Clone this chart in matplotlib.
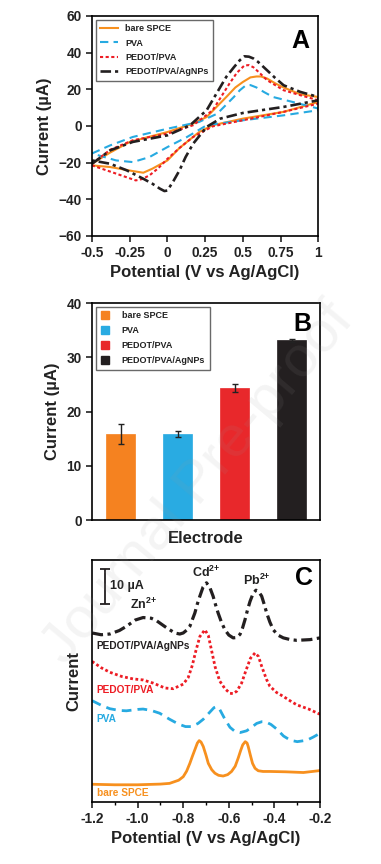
import matplotlib
matplotlib.use('Agg')
import matplotlib.pyplot as plt
from matplotlib.lines import Line2D

plt.rcParams['font.family'] = ['Liberation Sans', 'DejaVu Sans']
plt.rcParams['font.weight'] = 'bold'
plt.rcParams['mathtext.fontset'] = 'custom'
plt.rcParams['mathtext.rm'] = 'Liberation Sans:bold'
plt.rcParams['mathtext.it'] = 'Liberation Sans:bold'
plt.rcParams['mathtext.bf'] = 'Liberation Sans:bold'

# colours
c_orange = '#F7901E'
c_blue = '#27AAE1'
c_red = '#ED1C24'
c_black = '#231F20'

# ---------------- Panel A: cyclic voltammograms (forward then reverse) ----------------
bare_E = [-0.5, -0.38, -0.25, 0.0, 0.17, 0.26, 0.39, 0.45, 0.5, 0.55, 0.59, 0.62, 0.66, 0.72, 0.77, 0.88, 1.0,
          1.0, 0.77, 0.5, 0.3, 0.21, 0.08, 0.0, -0.1, -0.16, -0.23, -0.38, -0.5]
bare_I = [-20.6, -14.5, -8.7, -3.3, 1.3, 4.9, 15.8, 21.0, 24.0, 26.5, 27.0, 27.0, 25.9, 23.0, 21.0, 17.3, 15.8,
          13.1, 7.7, 4.0, 0.4, -3.3, -12.0, -18.8, -23.3, -25.5, -24.6, -22.4, -21.5]

pva_E = [-0.5, -0.38, -0.23, 0.0, 0.21, 0.33, 0.44, 0.48, 0.52, 0.55, 0.59, 0.64, 0.7, 0.83, 1.0,
         1.0, 0.77, 0.5, 0.26, 0.13, 0.0, -0.12, -0.23, -0.34, -0.5]
pva_I = [-15.0, -10.6, -6.0, -1.5, 2.2, 6.7, 15.8, 19.5, 22.2, 22.3, 21.0, 18.5, 15.8, 13.1, 9.5,
         8.6, 5.8, 3.1, 0.4, -6.0, -11.5, -17.0, -19.7, -18.8, -15.0]

pedot_E = [-0.5, -0.38, -0.23, 0.0, 0.17, 0.3, 0.41, 0.46, 0.51, 0.54, 0.57, 0.61, 0.66, 0.77, 0.88, 1.0,
           1.0, 0.77, 0.5, 0.3, 0.17, 0.08, 0.0, -0.06, -0.12, -0.17, -0.21, -0.34, -0.5]
pedot_I = [-20.6, -13.0, -7.8, -4.2, 0.4, 8.6, 23.0, 29.0, 33.0, 33.2, 32.0, 29.0, 25.0, 19.5, 16.8, 14.0,
           12.2, 7.7, 3.1, -0.2, -6.0, -12.0, -17.9, -23.0, -27.0, -29.0, -29.7, -26.0, -21.5]

agnp_E = [-0.5, -0.38, -0.23, 0.0, 0.15, 0.26, 0.39, 0.44, 0.48, 0.51, 0.54, 0.57, 0.6, 0.66, 0.71, 0.77, 0.88, 1.0,
          1.0, 0.77, 0.5, 0.35, 0.26, 0.17, 0.12, 0.08, 0.04, 0.0, -0.02, -0.05, -0.1, -0.16, -0.27, -0.38, -0.5]
agnp_I = [-20.6, -13.3, -8.7, -5.1, 0.4, 8.6, 26.8, 32.0, 35.9, 38.0, 37.8, 36.8, 35.0, 30.4, 26.5, 22.2, 18.6, 15.8,
          14.0, 10.4, 7.1, 4.0, -0.5, -9.7, -17.0, -24.2, -30.0, -35.2, -35.5, -34.2, -31.5, -28.8, -24.2, -20.6, -18.8]

# ---------------- Panel B: peak currents ----------------
electrodes = ['bare SPCE', 'PVA', 'PEDOT/PVA', 'PEDOT/PVA/AgNPs']
peak_current = [15.9, 15.9, 24.4, 33.2]
peak_err = [1.9, 0.5, 0.8, 0.3]
bar_colors = ['#F58220', '#29ABE2', '#E8282B', '#231F20']

# ---------------- Panel C: stripping voltammograms (offset, uA) ----------------
sw_bare_E = [-1.2, -1.1, -1.0, -0.9, -0.86, -0.82, -0.80, -0.785, -0.771, -0.76, -0.749, -0.738, -0.730,
             -0.722, -0.712, -0.70, -0.690, -0.675, -0.661, -0.645, -0.625, -0.605, -0.588, -0.572,
             -0.559, -0.548, -0.539, -0.528, -0.52, -0.515, -0.505, -0.496, -0.485, -0.471, -0.45,
             -0.42, -0.35, -0.273, -0.207, -0.2]
sw_bare_I = [5.05, 4.9, 4.9, 5.1, 5.3, 6.2, 7.2, 8.8, 11.0, 13.0, 14.9, 16.8, 17.5,
             17.1, 15.8, 13.3, 11.0, 9.2, 8.2, 7.6, 7.4, 7.8, 8.7, 10.2,
             12.5, 14.7, 16.3, 17.2, 16.8, 15.8, 13.2, 11.0, 9.6, 8.9, 8.7,
             8.7, 8.6, 8.4, 8.9, 9.0]

sw_pva_E = [-1.2, -1.16, -1.122, -1.08, -1.049, -1.0, -0.976, -0.94, -0.903, -0.86, -0.82, -0.79,
            -0.764, -0.735, -0.712, -0.685, -0.665, -0.654, -0.64, -0.617, -0.595, -0.573, -0.55,
            -0.522, -0.5, -0.478, -0.455, -0.44, -0.415, -0.39, -0.36, -0.33, -0.3, -0.258, -0.23, -0.2]
sw_pva_I = [28.9, 27.6, 26.6, 26.1, 26.0, 26.4, 26.5, 26.1, 25.3, 23.6, 22.2, 21.5,
            21.5, 22.4, 23.6, 25.5, 26.9, 27.2, 26.4, 23.6, 21.3, 20.1, 19.8,
            20.3, 21.3, 22.4, 22.9, 22.9, 22.1, 20.8, 18.8, 17.6, 17.2, 17.6, 18.5, 19.6]

sw_pedot_E = [-1.2, -1.16, -1.122, -1.07, -1.02, -0.976, -0.932, -0.88, -0.844, -0.80, -0.778, -0.76,
              -0.745, -0.727, -0.705, -0.69, -0.675, -0.66, -0.64, -0.617, -0.595, -0.581, -0.565,
              -0.544, -0.525, -0.505, -0.485, -0.47, -0.456, -0.435, -0.42, -0.39, -0.361, -0.33,
              -0.302, -0.25, -0.2]
sw_pedot_I = [40.1, 38.3, 37.0, 35.8, 35.1, 34.8, 33.9, 32.5, 32.3, 33.6, 35.5, 39.0,
              43.0, 47.2, 49.1, 47.5, 43.0, 38.5, 34.5, 32.3, 31.0, 30.9, 31.6,
              33.9, 37.5, 41.0, 42.5, 41.5, 38.7, 35.0, 33.0, 31.2, 30.1, 28.8,
              27.7, 26.5, 25.0]

sw_agnp_E = [-1.2, -1.16, -1.122, -1.08, -1.049, -1.01, -0.976, -0.94, -0.917, -0.88, -0.859, -0.837,
             -0.815, -0.80, -0.785, -0.771, -0.76, -0.749, -0.738, -0.727, -0.713, -0.698, -0.684,
             -0.669, -0.658, -0.647, -0.632, -0.617, -0.60, -0.581, -0.566, -0.551, -0.54, -0.529,
             -0.518, -0.507, -0.494, -0.481, -0.468, -0.456, -0.445, -0.434, -0.42, -0.405, -0.385,
             -0.361, -0.33, -0.302, -0.244, -0.2]
sw_agnp_I = [48.2, 47.7, 47.9, 48.9, 50.1, 51.9, 52.6, 52.4, 51.7, 50.0, 49.1, 48.2,
             47.9, 48.2, 49.0, 50.1, 52.0, 53.9, 56.5, 58.7, 61.3, 62.5, 61.3,
             58.7, 56.2, 53.9, 51.2, 49.1, 47.6, 46.8, 46.9, 47.8, 49.6, 52.0,
             54.8, 57.2, 59.4, 60.4, 59.9, 58.7, 56.4, 53.9, 51.3, 49.1, 47.6,
             46.8, 46.3, 46.1, 46.3, 46.8]

fig = plt.figure(figsize=(3.81, 8.64), dpi=100)

tick_fs = 9.8
label_fs = 12
leg_fs = 6.5
txt_col = '#222222'

def style_axes(ax):
    for sp in ax.spines.values():
        sp.set_linewidth(1.2)
        sp.set_color('black')
    ax.tick_params(direction='out', length=4, width=1.2, labelsize=tick_fs, colors=txt_col)
    for lab in ax.get_xticklabels() + ax.get_yticklabels():
        lab.set_fontweight('bold')

# ---- A ----
axA = fig.add_axes([0.2415, 0.7269, 0.594, 0.2546])
axA.plot(bare_E, bare_I, color=c_orange, lw=1.5, label='bare SPCE')
axA.plot(pva_E, pva_I, color=c_blue, lw=1.5, ls=(0, (4, 2.5)), label='PVA')
axA.plot(pedot_E, pedot_I, color=c_red, lw=1.5, ls=(0, (1.5, 1.2)), label='PEDOT/PVA')
axA.plot(agnp_E, agnp_I, color=c_black, lw=1.9, ls=(0, (4, 1.5, 1.2, 1.5)), label='PEDOT/PVA/AgNPs')
axA.set_xlim(-0.5, 1)
axA.set_ylim(-60, 60)
axA.set_xticks([-0.5, -0.25, 0, 0.25, 0.5, 0.75, 1])
axA.set_xticklabels(['-0.5', '-0.25', '0', '0.25', '0.5', '0.75', '1'])
axA.set_yticks([-60, -40, -20, 0, 20, 40, 60])
style_axes(axA)
axA.set_xlabel('Potential (V vs Ag/AgCl)', fontsize=label_fs, fontweight='bold', color=txt_col, labelpad=3)
axA.set_ylabel('Current (µA)', fontsize=label_fs, fontweight='bold', color=txt_col, labelpad=5)
legA = axA.legend(loc='upper left', fontsize=leg_fs, frameon=True, fancybox=False, edgecolor='#444444',
                  handlelength=2.0, handletextpad=0.8, borderaxespad=0.4, labelspacing=0.6, borderpad=0.5)
legA.get_frame().set_linewidth(1.0)
for t in legA.get_texts():
    t.set_fontweight('bold')
    t.set_color(txt_col)
axA.text(0.96, 0.94, 'A', transform=axA.transAxes, fontsize=18, fontweight='bold',
         ha='right', va='top')

# ---- B ----
axB = fig.add_axes([0.2415, 0.398, 0.5985, 0.251])
xpos = list(range(1, len(electrodes) + 1))
axB.bar(xpos, peak_current, width=0.5, color=bar_colors, edgecolor=bar_colors, linewidth=0.5,
        yerr=peak_err, error_kw=dict(ecolor='#222222', elinewidth=1.0, capsize=2, capthick=1.0))
axB.set_xlim(0.5, 4.5)
axB.set_ylim(0, 40)
axB.set_yticks([0, 10, 20, 30, 40])
axB.set_xticks([])
style_axes(axB)
axB.set_xlabel('Electrode', fontsize=label_fs, fontweight='bold', color=txt_col, labelpad=8)
axB.set_ylabel('Current (µA)', fontsize=label_fs, fontweight='bold', color=txt_col, labelpad=5)
handles = [Line2D([], [], marker='s', ls='none', color=c, markersize=5.5) for c in bar_colors]
legB = axB.legend(handles, electrodes, loc='upper left', fontsize=leg_fs, frameon=True, fancybox=False,
                  edgecolor='#444444', handlelength=1.0, borderaxespad=0.4, labelspacing=0.65,
                  borderpad=0.5, handletextpad=1.4)
legB.get_frame().set_linewidth(1.0)
for t in legB.get_texts():
    t.set_fontweight('bold')
    t.set_color(txt_col)
axB.text(0.96, 0.96, 'B', transform=axB.transAxes, fontsize=18, fontweight='bold',
         ha='right', va='top')

# ---- C ----
axC = fig.add_axes([0.2415, 0.0718, 0.5985, 0.280])
axC.plot(sw_bare_E, sw_bare_I, color=c_orange, lw=2.0)
axC.plot(sw_pva_E, sw_pva_I, color=c_blue, lw=2.0, ls=(0, (3.5, 2.2)))
axC.plot(sw_pedot_E, sw_pedot_I, color=c_red, lw=2.0, ls=(0, (1.0, 0.9)))
axC.plot(sw_agnp_E, sw_agnp_I, color=c_black, lw=2.3, ls=(0, (3.5, 1.4, 1.0, 1.4)))
axC.set_xlim(-1.2, -0.2)
axC.set_ylim(0, 69)
axC.set_xticks([-1.2, -1.0, -0.8, -0.6, -0.4, -0.2])
axC.set_xticklabels(['-1.2', '-1.0', '-0.8', '-0.6', '-0.4', '-0.2'])
axC.set_xticks([-1.1, -0.9, -0.7, -0.5, -0.3], minor=True)
axC.set_yticks([])
style_axes(axC)
axC.tick_params(which='minor', direction='out', length=2.5, width=1.0)
axC.set_xlabel('Potential (V vs Ag/AgCl)', fontsize=label_fs, fontweight='bold', color=txt_col, labelpad=3)
axC.set_ylabel('Current', fontsize=label_fs, fontweight='bold', color=txt_col, labelpad=8)

# scale bar 10 uA
axC.errorbar([-1.145], [61.5], yerr=[5], color=c_black, elinewidth=1.3, capsize=3.5, capthick=1.3)
axC.text(-1.12, 61.5, '10 µA', fontsize=9, fontweight='bold', color=txt_col, ha='left', va='center')
axC.text(-0.975, 54.3, r'Zn$^{2{+}}$', fontsize=9, fontweight='bold', color=txt_col, ha='center', va='bottom')
axC.text(-0.70, 63.2, r'Cd$^{2{+}}$', fontsize=9, fontweight='bold', color=txt_col, ha='center', va='bottom')
axC.text(-0.475, 61.0, r'Pb$^{2{+}}$', fontsize=9, fontweight='bold', color=txt_col, ha='center', va='bottom')
axC.text(0.97, 0.975, 'C', transform=axC.transAxes, fontsize=18, fontweight='bold',
         ha='right', va='top')
axC.text(-1.18, 44.6, 'PEDOT/PVA/AgNPs', fontsize=7.3, fontweight='bold', color=c_black, va='center')
axC.text(-1.18, 31.8, 'PEDOT/PVA', fontsize=7.3, fontweight='bold', color=c_red, va='center')
axC.text(-1.18, 23.8, 'PVA', fontsize=7.3, fontweight='bold', color=c_blue, va='center')
axC.text(-1.18, 2.5, 'bare SPCE', fontsize=7.3, fontweight='bold', color=c_orange, va='center')

# faint "Journal Pre-proof" watermark
fig.text(0.52, 0.44, 'Journal Pre-proof', fontsize=42, color='#999999', alpha=0.11,
         rotation=50, ha='center', va='center', fontweight='normal', zorder=10)

fig.savefig('out.png', dpi=100, facecolor='white')
